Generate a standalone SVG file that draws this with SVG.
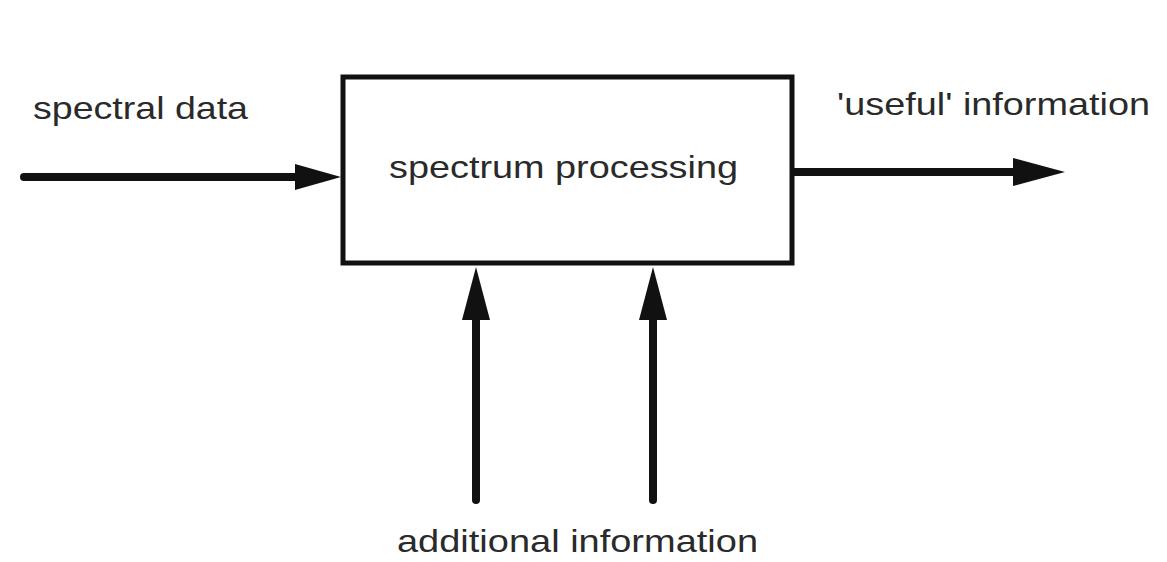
<svg xmlns="http://www.w3.org/2000/svg" width="1167" height="562" viewBox="0 0 1167 562">
  <style>
    .label { font-family: "Liberation Sans", Arial, sans-serif; font-size: 32px; fill: #2a2a2a; }
    .box { fill: #ffffff; stroke: #111111; stroke-width: 5; }
    .wire { stroke: #111111; stroke-width: 8; stroke-linecap: round; fill: none; }
    .head { fill: #111111; }
  </style>
  <rect width="1167" height="562" fill="#ffffff"/>

  <!-- central processing block -->
  <g id="node-processing">
    <rect class="box" x="343" y="77" width="449" height="186"/>
    <text class="label" x="389" y="178" textLength="349" lengthAdjust="spacingAndGlyphs">spectrum processing</text>
  </g>

  <!-- free-standing labels -->
  <g id="node-input">
    <text class="label" x="33" y="119" textLength="215" lengthAdjust="spacingAndGlyphs">spectral data</text>
  </g>
  <g id="node-output">
    <text class="label" x="837" y="115" textLength="313" lengthAdjust="spacingAndGlyphs">'useful' information</text>
  </g>
  <g id="node-additional">
    <text class="label" x="397" y="552" textLength="361" lengthAdjust="spacingAndGlyphs">additional information</text>
  </g>

  <!-- connectors -->
  <g id="connectors">
    <!-- spectral data in -->
    <line class="wire" x1="24" y1="177" x2="300" y2="177"/>
    <polygon class="head" points="295,164 341,177 295,190"/>
    <!-- useful information out -->
    <line class="wire" x1="795" y1="172" x2="1018" y2="172"/>
    <polygon class="head" points="1013,158 1065,172 1013,186"/>
    <!-- additional information up -->
    <line class="wire" x1="476" y1="500" x2="476" y2="315"/>
    <polygon class="head" points="462,320 476,267 490,320"/>
    <line class="wire" x1="653" y1="500" x2="653" y2="315"/>
    <polygon class="head" points="639,320 653,267 667,320"/>
  </g>
</svg>
